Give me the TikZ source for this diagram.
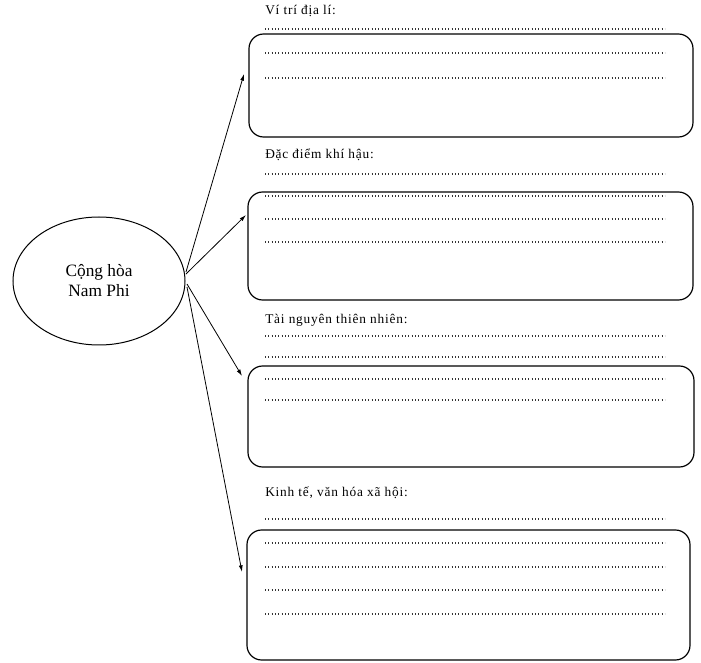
\documentclass[tikz,border=0pt]{standalone}
\usepackage{fontspec}
\setmainfont{Liberation Serif}
\newfontfamily\titlefont[LetterSpace=6]{Liberation Serif}
\usetikzlibrary{arrows.meta,shapes.geometric}
\begin{document}
\begin{tikzpicture}[x=0.75pt,y=-0.75pt,
  box/.style={draw, line width=0.9pt, rounded corners=11pt, inner sep=0pt},
  dotline/.style={draw=black!80, line width=0.8pt, dash pattern=on 0.8pt off 1.7pt},
  title/.style={anchor=west, inner sep=0pt, font=\titlefont\fontsize{10}{12}\selectfont},
  conn/.style={-{Latex[length=5pt,width=3pt]}, line width=0.6pt}]
\useasboundingbox (0,0) rectangle (701,663);
% central ellipse
\node[ellipse, draw, line width=0.75pt, minimum width=172*0.75pt, minimum height=128*0.75pt,
      align=center, font=\fontsize{13}{15}\selectfont] (ell) at (99,281) {Cộng hòa\\Nam Phi};
% boxes
\node[box, minimum width=444*0.75pt, minimum height=103*0.75pt] (b1) at (471,85.5) {};
\node[box, minimum width=445*0.75pt, minimum height=108*0.75pt] (b2) at (470.5,246) {};
\node[box, minimum width=446*0.75pt, minimum height=101*0.75pt] (b3) at (471,416.5) {};
\node[box, minimum width=443*0.75pt, minimum height=130*0.75pt] (b4) at (468.5,595) {};
% titles
\node[title] (t1) at (265,11) {Ví trí địa lí:};
\node[title] (t2) at (265,155) {Đặc điểm khí hậu:};
\node[title] (t3) at (265,320) {Tài nguyên thiên nhiên:};
\node[title] (t4) at (265,493) {Kinh tế, văn hóa xã hội:};
% dotted writing lines
\foreach \y in {29,53,78, 174,196,219,242, 336,357,379,400, 519,543,567,590,614}
  \draw[dotline] (265,\y) -- (665,\y);
% connector endpoints
\coordinate (s1) at (186,272);
\coordinate (s2) at (186,274);
\coordinate (s3) at (187,284);
\coordinate (s4) at (187,287);
\coordinate (e1) at (244,74);
\coordinate (e2) at (246,215);
\coordinate (e3) at (242,376);
\coordinate (e4) at (242,572);
\draw[conn] (s1) -- (e1);
\draw[conn] (s2) -- (e2);
\draw[conn] (s3) -- (e3);
\draw[conn] (s4) -- (e4);
\end{tikzpicture}
\end{document}
